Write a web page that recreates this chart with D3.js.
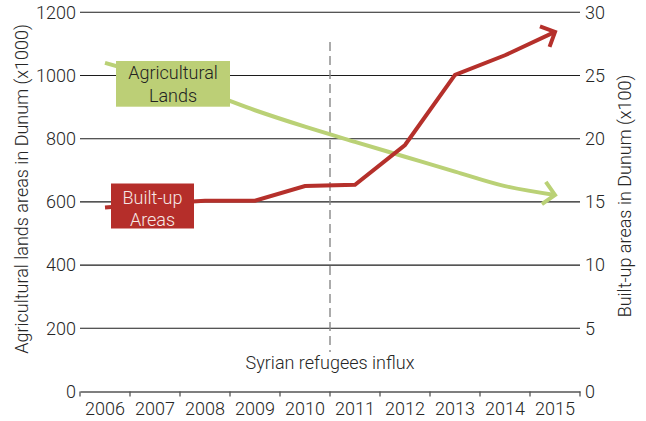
<!DOCTYPE html>
<html><head><meta charset="utf-8">
<script src="https://cdn.jsdelivr.net/npm/d3@7"></script>
<style>
html,body{margin:0;padding:0;background:#fff;}
svg{display:block;font-family:Roboto,"Noto Sans",sans-serif;font-weight:300;}
</style></head>
<body><svg id="chart" width="646" height="421"></svg>
<script>
const years = ["2006","2007","2008","2009","2010","2011","2012","2013","2014","2015"];
const agricultural = [1040, 995, 948, 890, 838, 790, 743, 696, 650, 622]; // x1000 dunum (left axis)
const builtUp = [14.55, 14.85, 15.1, 15.1, 16.25, 16.35, 19.5, 25.05, 26.6, 28.45]; // x100 dunum (right axis)
const leftTicks = [0, 200, 400, 600, 800, 1000, 1200];
const rightTicks = [0, 5, 10, 15, 20, 25, 30];
const eventYearGap = ["2010","2011"];
const eventLabel = "Syrian refugees influx";
const leftTitle = "Agricultural lands areas in Dunum (x1000)";
const rightTitle = "Built-up areas in Dunum (x100)";
const agriLabel = ["Agricultural", "Lands"];
const builtLabel = ["Built-up", "Areas"];

const svg = d3.select("#chart");
const L = 80, R = 580, T = 12.3, B = 391.5;
const green = "#bad176", red = "#b5302b";
const FS = 18, TXT = "#262626";

const x = d3.scaleBand().domain(years).range([L, R]).padding(0);
const yL = d3.scaleLinear().domain([0, 1200]).range([B, T]);
const yR = d3.scaleLinear().domain([0, 30]).range([B, T]);
const cx = d => x(d) + x.bandwidth() / 2;

// gridlines
svg.append("g").selectAll("line").data(leftTicks.filter(d => d > 0)).join("line")
  .attr("x1", L).attr("x2", R).attr("y1", d => yL(d)).attr("y2", d => yL(d))
  .attr("stroke", "#1c1c1c").attr("stroke-width", 1.1);

function styleText(g) {
  g.selectAll("text").attr("font-size", FS).attr("fill", TXT).attr("font-family", "Roboto").attr("font-weight", 300);
}
// left axis
const gl = svg.append("g").attr("transform", `translate(${L},0)`)
  .call(d3.axisLeft(yL).tickValues(leftTicks).tickFormat(d3.format("d")).tickSize(0).tickPadding(4));
gl.select(".domain").remove();
styleText(gl);

// right axis
const gr = svg.append("g").attr("transform", `translate(${R},0)`)
  .call(d3.axisRight(yR).tickValues(rightTicks).tickFormat(d3.format("d")).tickSize(0).tickPadding(5));
gr.select(".domain").remove();
styleText(gr);

// bottom axis
const gb = svg.append("g").attr("transform", `translate(0,${B})`)
  .call(d3.axisBottom(x).tickSize(0).tickPadding(11));
gb.select(".domain").attr("stroke", "#555").attr("stroke-width", 1.3);
styleText(gb);
const bounds = years.map(d => x(d)).concat([x(years[years.length - 1]) + x.bandwidth()]);
gb.append("g").selectAll("line").data(bounds).join("line")
  .attr("x1", d => d).attr("x2", d => d).attr("y1", 0).attr("y2", 5)
  .attr("stroke", "#555").attr("stroke-width", 1.3);

// event dashed line
const ex = x(eventYearGap[1]);
svg.append("line").attr("x1", ex).attr("x2", ex).attr("y1", 42).attr("y2", 352)
  .attr("stroke", "#888").attr("stroke-width", 1.4).attr("stroke-dasharray", "9,5");
svg.append("text").attr("x", ex).attr("y", 369).attr("text-anchor", "middle")
  .attr("font-size", FS).attr("fill", TXT).text(eventLabel);

function arrow(p0, p1, len) {
  const a = Math.atan2(p1[1] - p0[1], p1[0] - p0[0]);
  const a1 = a + Math.PI - Math.PI / 4, a2 = a + Math.PI + Math.PI / 4;
  return `M${p1[0] + len * Math.cos(a1)},${p1[1] + len * Math.sin(a1)}L${p1[0]},${p1[1]}L${p1[0] + len * Math.cos(a2)},${p1[1] + len * Math.sin(a2)}`;
}

const gPts = years.map((d, i) => [cx(d), yL(agricultural[i])]);
svg.append("path").attr("d", d3.line().curve(d3.curveCatmullRom)(gPts))
  .attr("fill", "none").attr("stroke", green).attr("stroke-width", 4);
svg.append("path").attr("d", arrow(gPts[gPts.length - 2], gPts[gPts.length - 1], 16))
  .attr("fill", "none").attr("stroke", green).attr("stroke-width", 4);

const rPts = years.map((d, i) => [cx(d), yR(builtUp[i])]);
svg.append("path").attr("d", d3.line()(rPts))
  .attr("fill", "none").attr("stroke", red).attr("stroke-width", 4).attr("stroke-linejoin", "miter");
svg.append("path").attr("d", arrow(rPts[rPts.length - 2], rPts[rPts.length - 1], 16))
  .attr("fill", "none").attr("stroke", red).attr("stroke-width", 4);

function label(lines, bx, by, bw, bh, fill, color, baselines) {
  svg.append("rect").attr("x", bx).attr("y", by).attr("width", bw).attr("height", bh).attr("fill", fill);
  lines.forEach((t, i) => {
    svg.append("text").attr("x", bx + bw / 2).attr("y", baselines[i]).attr("text-anchor", "middle")
      .attr("font-size", FS).attr("fill", color).text(t);
  });
}
label(agriLabel, 116, 61, 114, 45.7, "#bccf76", "#222", [79, 102]);
label(builtLabel, 111, 183.5, 83, 45, "#b52e2a", "#f6e8e6", [204, 226]);

svg.append("text").attr("transform", `translate(28,189) rotate(-90)`).attr("text-anchor", "middle")
  .attr("font-size", FS).attr("fill", TXT).text(leftTitle);
svg.append("text").attr("transform", `translate(631,196) rotate(-90)`).attr("text-anchor", "middle")
  .attr("font-size", FS).attr("fill", TXT).text(rightTitle);
</script></body></html>
